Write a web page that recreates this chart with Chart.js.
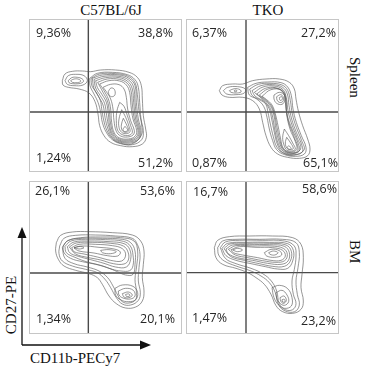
<!DOCTYPE html>
<html>

<head>
  <title>CD27 / CD11b</title>
  <meta content="text/html;charset=utf-8" http-equiv="Content-Type">
  <script src="https://cdn.jsdelivr.net/npm/chart.js"></script>
  <style>
    body { margin: 0; background: #fff; }
    #page { position: relative; width: 375px; height: 366px; overflow: hidden; }
    .panel { position: absolute; width: 153px; height: 153px; }
    .panel canvas { position: absolute; left: 0; top: 0; }
    .frame { position: absolute; left: 0; top: 0; right: 0; bottom: 0; border: 1.5px solid #c6c6c6; }
    .pct { position: absolute; font: 12.5px "Open Sans", sans-serif; line-height: 14px; color: #262626; white-space: nowrap; }
    .serif { position: absolute; font: 15px "Liberation Serif", "DejaVu Serif", serif; color: #111; white-space: nowrap; line-height: 16px; }
  </style>
</head>

<body>
  <div id="page">
    <div class="serif" id="title1" style="left:111px; top:2px; transform:translateX(-50%)"></div>
    <div class="serif" id="title2" style="left:268px; top:2px; transform:translateX(-50%)"></div>
    <div class="serif" id="row1" style="left:347px; top:57px; writing-mode:vertical-rl"></div>
    <div class="serif" id="row2" style="left:347px; top:240px; writing-mode:vertical-rl"></div>
    <div class="serif" id="yTitle" style="left:11px; top:305px; transform:translate(-50%,-50%) rotate(-90deg)"></div>
    <div class="serif" id="xTitle" style="left:30px; top:350px"></div>
    <svg width="375" height="366" style="position:absolute;left:0;top:0">
      <line x1="22" y1="345" x2="22" y2="234" stroke="#111" stroke-width="1.3" />
      <polygon points="22,227 17.5,238 26.5,238" fill="#111" />
      <line x1="22" y1="345" x2="143" y2="345" stroke="#111" stroke-width="1.3" />
      <polygon points="151,345 140,340.5 140,349.5" fill="#111" />
    </svg>
  </div>

  <script>
    // column / row names, axis names
    const strains = ['C57BL/6J', 'TKO'];
    const organs = ['Spleen', 'BM'];
    const xMarker = 'CD11b-PECy7';
    const yMarker = 'CD27-PE';

    // quadrant percentages: upper-left, upper-right, lower-left, lower-right
    const c57SpleenPct = ['9,36%', '38,8%', '1,24%', '51,2%'];
    const tkoSpleenPct = ['6,37%', '27,2%', '0,87%', '65,1%'];
    const c57BmPct = ['26,1%', '53,6%', '1,34%', '20,1%'];
    const tkoBmPct = ['16,7%', '58,6%', '1,47%', '23,2%'];

    // quadrant gates [CD11b, CD27] in channel units (0-459)
    const c57SpleenGate = [178, 180];
    const tkoSpleenGate = [180, 180];
    const c57BmGate = [178, 183];
    const tkoBmGate = [180, 184];

    // contour lines, [CD11b, CD27] pairs
    const c57SpleenContours = [
      [[100,274],[108,294],[130,302],[160,303],[185,301],[215,306],[260,306],[300,299],[325,284],[337,259],[340,219],[343,169],[350,129],[352,104],[340,84],[310,76],[275,79],[245,89],[225,109],[212,139],[207,174],[198,211],[180,237],[150,249],[118,254],[102,261]],
      [[108,274],[118,289],[140,293],[165,289],[175,274],[162,261],[135,259],[115,263]],
      [[118,274],[128,283],[145,284],[160,279],[163,271],[150,265],[130,265],[120,268]],
      [[125,274],[135,279],[150,278],[155,272],[145,268],[130,269]],
      [[182,281],[205,296],[250,299],[295,292],[318,277],[328,254],[332,209],[336,159],[343,124],[338,97],[310,82],[275,85],[250,97],[232,119],[220,149],[215,179],[207,209],[195,234],[183,259]],
      [[186,281],[212,294],[260,295],[298,287],[318,268],[325,232],[330,184],[338,141],[337,110],[308,84],[273,87],[250,100],[234,124],[224,156],[218,190],[214,215],[201,240],[189,258]],
      [[190,281],[220,291],[270,291],[300,281],[318,259],[322,209],[328,159],[336,124],[330,99],[305,87],[272,90],[250,103],[237,129],[228,164],[222,201],[208,227],[195,251]],
      [[195,278],[225,287],[270,287],[299,276],[314,254],[318,209],[324,159],[333,124],[328,101],[302,90],[271,93],[251,107],[240,134],[233,169],[227,205],[213,230],[200,252]],
      [[200,274],[230,283],[270,283],[297,271],[310,249],[314,209],[320,159],[330,124],[325,103],[300,93],[270,96],[252,111],[242,139],[238,174],[232,209],[218,234],[205,254]],
      [[206,269],[235,279],[271,278],[295,266],[306,244],[310,204],[316,159],[327,124],[322,105],[299,96],[271,99],[254,114],[245,144],[241,182],[235,214],[222,239]],
      [[212,264],[240,274],[272,273],[292,261],[302,239],[306,199],[312,159],[323,124],[318,107],[298,99],[272,102],[256,117],[248,149],[245,189],[238,219],[225,244]],
      [[222,254],[245,263],[270,262],[285,249],[292,224],[296,189],[305,154],[316,124],[312,111],[295,105],[275,108],[262,122],[255,154],[252,189],[245,219],[232,241]],
      [[238,242],[246,252],[256,248],[258,232],[250,226],[241,230]],
      [[272,209],[285,197],[295,169],[305,139],[310,119],[300,110],[280,112],[266,125],[262,154],[264,184]],
      [[278,187],[290,164],[300,137],[303,121],[292,115],[278,119],[270,134],[270,159]],
      [[283,161],[293,141],[299,124],[290,119],[280,124],[277,141]],
      [[288,137],[296,126],[288,121],[282,127]]
    ];

    const tkoSpleenContours = [
      [[100,244],[110,259],[140,264],[170,264],[200,274],[240,279],[280,279],[310,269],[325,249],[330,219],[338,179],[350,139],[365,99],[372,69],[365,49],[340,41],[305,44],[275,54],[255,74],[240,109],[230,149],[220,189],[200,214],[170,224],[130,224],[108,231]],
      [[112,244],[125,254],[155,256],[178,249],[175,237],[150,232],[122,234]],
      [[130,244],[145,250],[162,247],[165,240],[150,237],[135,239]],
      [[145,245],[151,246],[152,242],[146,241]],
      [[185,254],[210,266],[245,270],[285,268],[305,255],[316,229],[321,189],[331,149],[346,109],[360,74],[355,54],[328,47],[296,52],[272,67],[260,94],[250,129],[243,164],[233,197],[212,219],[190,231]],
      [[191,249],[217,263],[252,266],[288,261],[305,245],[313,214],[319,174],[331,134],[347,94],[354,66],[323,50],[293,56],[273,74],[262,106],[253,144],[246,178],[239,204],[222,216],[199,229]],
      [[198,244],[225,259],[260,262],[290,254],[304,234],[309,199],[317,159],[331,119],[348,79],[348,59],[318,52],[290,59],[275,81],[265,119],[257,159],[249,191],[232,213],[208,227]],
      [[205,239],[231,255],[264,258],[291,247],[301,222],[306,184],[317,144],[333,103],[344,70],[316,54],[291,63],[277,85],[267,124],[260,164],[251,194],[232,216]],
      [[212,234],[238,251],[268,253],[292,239],[298,209],[304,169],[318,129],[336,87],[340,63],[314,56],[292,66],[280,89],[270,129],[264,169],[254,197],[232,219]],
      [[220,231],[246,249],[278,249],[296,229],[300,191],[308,149],[323,109],[336,65],[312,58],[292,69],[282,94],[273,134],[266,172],[256,199],[237,218]],
      [[228,227],[255,247],[288,245],[300,219],[302,174],[312,129],[328,91],[332,67],[310,60],[292,71],[284,99],[276,139],[268,174],[258,201],[242,217]],
      [[264,231],[280,239],[295,231],[296,214],[288,203],[272,206],[264,219]],
      [[272,226],[284,232],[292,224],[290,211],[280,209],[273,216]],
      [[280,223],[287,226],[289,218],[282,215]],
      [[295,129],[308,109],[320,87],[328,69],[318,63],[302,66],[294,81],[290,104]],
      [[302,104],[314,87],[322,71],[314,67],[303,71],[298,87]],
      [[308,79],[316,71],[310,68],[304,73]]
    ];

    const c57BmContours = [
      [[82,274],[95,296],[130,306],[180,307],[250,304],[310,297],[335,279],[345,249],[343,209],[340,169],[345,129],[340,99],[320,81],[290,78],[262,91],[240,114],[220,149],[205,169],[180,181],[140,191],[105,204],[88,224],[80,249]],
      [[92,264],[105,287],[140,296],[200,297],[260,294],[310,287],[325,269],[333,239],[330,199],[328,159],[334,124],[328,101],[305,87],[280,90],[262,109],[245,139],[228,164],[205,184],[170,194],[130,204],[100,219],[90,241]],
      [[100,259],[115,279],[155,289],[215,291],[275,289],[315,279],[326,249],[323,204],[318,164],[322,129],[320,103],[300,93],[280,97],[266,117],[252,144],[236,169],[210,189],[175,201],[135,211],[108,227]],
      [[102,264],[118,281],[160,287],[220,287],[280,284],[305,274],[318,249],[318,209],[312,179],[290,177],[265,187],[235,199],[200,209],[160,217],[125,227],[105,244]],
      [[108,263],[126,279],[170,284],[230,283],[283,278],[304,264],[312,237],[312,205],[302,190],[276,189],[250,194],[215,206],[175,216],[138,230],[112,244]],
      [[115,262],[135,276],[180,279],[240,277],[285,271],[302,254],[305,224],[292,201],[260,201],[225,212],[185,223],[148,233],[122,244]],
      [[121,261],[142,273],[190,275],[245,272],[283,264],[297,246],[298,222],[285,210],[253,211],[215,222],[175,230],[140,240]],
      [[128,259],[150,269],[200,269],[250,265],[280,256],[290,237],[278,219],[245,221],[205,231],[165,240],[135,247]],
      [[135,258],[160,264],[210,260],[255,255],[274,246],[266,234],[235,235],[195,243],[150,249]],
      [[135,259],[150,263],[165,259],[150,255]],
      [[215,251],[240,253],[262,247],[245,241],[220,244]],
      [[258,137],[280,147],[312,143],[326,124],[320,103],[298,97],[276,102],[260,116]],
      [[268,129],[290,137],[313,131],[318,114],[304,105],[282,108],[270,117]],
      [[280,121],[298,126],[310,117],[300,109],[285,111]],
      [[290,119],[300,120],[302,114],[292,113]]
    ];

    const tkoBmContours = [
      [[85,259],[95,281],[130,292],[190,294],[260,294],[320,289],[345,269],[352,229],[348,179],[345,139],[352,99],[345,74],[320,62],[290,67],[270,85],[255,119],[235,149],[210,169],[185,184],[150,197],[110,209],[90,229]],
      [[95,259],[110,279],[150,284],[220,284],[290,284],[330,274],[340,244],[336,199],[330,159],[334,119],[340,87],[326,67],[298,69],[278,87],[268,124],[250,154],[225,174],[195,189],[150,204],[115,219],[98,237]],
      [[103,259],[118,276],[160,281],[230,281],[295,279],[325,264],[330,234],[325,194],[318,159],[322,119],[330,91],[320,73],[298,73],[280,91],[272,129],[256,159],[230,181],[195,197],[150,211],[118,227]],
      [[108,257],[125,272],[180,275],[250,275],[305,271],[322,251],[320,219],[305,197],[275,195],[238,202],[195,211],[150,221],[120,235]],
      [[114,256],[132,270],[185,272],[250,272],[300,267],[316,248],[313,219],[295,203],[260,203],[220,211],[175,221],[135,232]],
      [[120,255],[140,267],[190,268],[250,268],[295,263],[310,244],[306,219],[285,209],[245,212],[200,221],[155,229],[127,241]],
      [[127,254],[150,265],[200,264],[255,264],[292,257],[304,239],[296,220],[270,215],[230,220],[185,229],[148,237]],
      [[135,253],[160,262],[210,260],[260,259],[290,251],[298,234],[285,221],[255,221],[215,229],[170,237],[142,244]],
      [[235,244],[255,254],[280,250],[287,237],[266,230],[242,234]],
      [[248,244],[262,249],[276,244],[266,237],[252,239]],
      [[140,252],[155,257],[170,252],[155,247]],
      [[258,139],[280,146],[305,136],[318,109],[316,84],[296,77],[278,87],[264,109]],
      [[270,124],[288,131],[303,117],[308,97],[295,86],[280,94],[272,107]],
      [[282,109],[294,114],[301,101],[293,92],[285,97]],
      [[288,103],[295,104],[297,97],[290,96]]
    ];

    // page layout: panel boxes and label placement
    const panelLayout = [
      { left: 29, top: 19, pct: [['left', 7, 7], ['right', 9, 7], ['left', 7, 132], ['right', 9, 137]] },
      { left: 186, top: 19, pct: [['left', 6, 7], ['right', 3, 7], ['left', 6, 137], ['right', 1, 137]] },
      { left: 29, top: 181, pct: [['left', 6, 3], ['right', 7, 3], ['left', 7, 131], ['right', 7, 131]] },
      { left: 186, top: 181, pct: [['left', 7, 4], ['right', 2, 1], ['left', 6, 130], ['right', 3, 133]] }
    ];

    const panels = [
      { contours: c57SpleenContours, gate: c57SpleenGate, pct: c57SpleenPct },
      { contours: tkoSpleenContours, gate: tkoSpleenGate, pct: tkoSpleenPct },
      { contours: c57BmContours, gate: c57BmGate, pct: c57BmPct },
      { contours: tkoBmContours, gate: tkoBmGate, pct: tkoBmPct }
    ];

    document.getElementById('title1').textContent = strains[0];
    document.getElementById('title2').textContent = strains[1];
    document.getElementById('row1').textContent = organs[0];
    document.getElementById('row2').textContent = organs[1];
    document.getElementById('xTitle').textContent = xMarker;
    document.getElementById('yTitle').textContent = yMarker;

    const page = document.getElementById('page');

    panels.forEach(function (p, i) {
      const box = panelLayout[i];
      const div = document.createElement('div');
      div.className = 'panel';
      div.style.left = box.left + 'px';
      div.style.top = box.top + 'px';
      const canvas = document.createElement('canvas');
      canvas.width = 153;
      canvas.height = 153;
      div.appendChild(canvas);
      const frame = document.createElement('div');
      frame.className = 'frame';
      div.appendChild(frame);
      p.pct.forEach(function (txt, k) {
        const lab = document.createElement('div');
        lab.className = 'pct';
        lab.textContent = txt;
        const pos = box.pct[k];
        lab.style[pos[0]] = pos[1] + 'px';
        lab.style.top = pos[2] + 'px';
        div.appendChild(lab);
      });
      page.appendChild(div);

      const datasets = p.contours.map(c => ({
        data: c.concat([c[0]]).map(pt => ({ x: pt[0], y: pt[1] })),
        showLine: true,
        borderColor: 'rgba(90,90,90,0.85)',
        borderWidth: 0.75,
        pointRadius: 0,
        tension: 0.4,
        fill: false
      }));
      // quadrant lines
      datasets.push({
        data: [{ x: p.gate[0], y: 0 }, { x: p.gate[0], y: 459 }],
        showLine: true, borderColor: '#4a4a4a', borderWidth: 1.4, pointRadius: 0
      });
      datasets.push({
        data: [{ x: 0, y: p.gate[1] }, { x: 459, y: p.gate[1] }],
        showLine: true, borderColor: '#4a4a4a', borderWidth: 1.4, pointRadius: 0
      });

      new Chart(canvas.getContext('2d'), {
        type: 'scatter',
        data: { datasets: datasets },
        options: {
          responsive: false,
          animation: false,
          devicePixelRatio: 1,
          layout: { padding: 0 },
          plugins: { legend: { display: false }, tooltip: { enabled: false } },
          scales: {
            x: { type: 'linear', min: 0, max: 459, display: false },
            y: { type: 'linear', min: 0, max: 459, display: false }
          }
        }
      });
    });
  </script>
</body>

</html>
